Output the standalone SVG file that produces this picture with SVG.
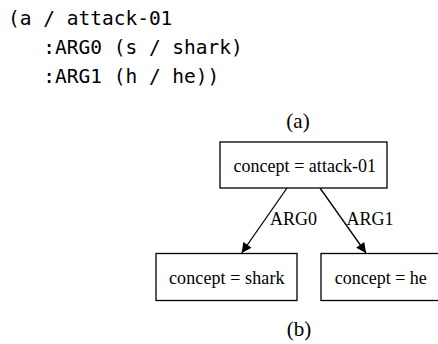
<svg xmlns="http://www.w3.org/2000/svg" width="438" height="344" viewBox="0 0 438 344">
<defs>
<style>
.code{font-family:"DejaVu Sans Mono","Liberation Mono",monospace;font-size:19.5px;fill:#000;white-space:pre}
.lbl{font-family:"Liberation Serif","Times New Roman",serif;font-size:18px;fill:#000}
.cap{font-family:"Liberation Serif","Times New Roman",serif;font-size:21px;fill:#000}
.box{fill:#fff;stroke:#000;stroke-width:1.3}
.edge{fill:none;stroke:#000;stroke-width:1.3}
</style>
<marker id="arr" viewBox="0 0 10 10" refX="10" refY="5" markerWidth="11" markerHeight="10" markerUnits="userSpaceOnUse" orient="auto">
<path d="M0,0 L10,5 L0,10 Z" fill="#000"/>
</marker>
</defs>
<rect width="438" height="344" fill="#fff"/>
<g id="code">
<text class="code" x="8" y="25" xml:space="preserve">(a / attack-01</text>
<text class="code" x="8" y="54" xml:space="preserve">   :ARG0 (s / shark)</text>
<text class="code" x="8" y="83" xml:space="preserve">   :ARG1 (h / he))</text>
</g>
<text class="cap" x="298" y="128" text-anchor="middle">(a)</text>
<g id="connectors">
<line class="edge" x1="287" y1="188" x2="241.7" y2="253" marker-end="url(#arr)"/>
<line class="edge" x1="320" y1="188" x2="366" y2="253" marker-end="url(#arr)"/>
<text class="lbl" x="270" y="225">ARG0</text>
<text class="lbl" x="346.5" y="225">ARG1</text>
</g>
<g id="n-attack">
<rect class="box" x="220" y="142" width="167" height="46"/>
<text class="lbl" x="233.5" y="171.5" textLength="142.5" lengthAdjust="spacing">concept = attack-01</text>
</g>
<g id="n-shark">
<rect class="box" x="156" y="253.5" width="141" height="47"/>
<text class="lbl" x="169" y="284" textLength="115.5" lengthAdjust="spacing">concept = shark</text>
</g>
<g id="n-he">
<rect class="box" x="321" y="253.5" width="121" height="47"/>
<text class="lbl" x="334.8" y="284" textLength="92" lengthAdjust="spacing">concept = he</text>
</g>
<text class="cap" x="299" y="336" text-anchor="middle">(b)</text>
</svg>
